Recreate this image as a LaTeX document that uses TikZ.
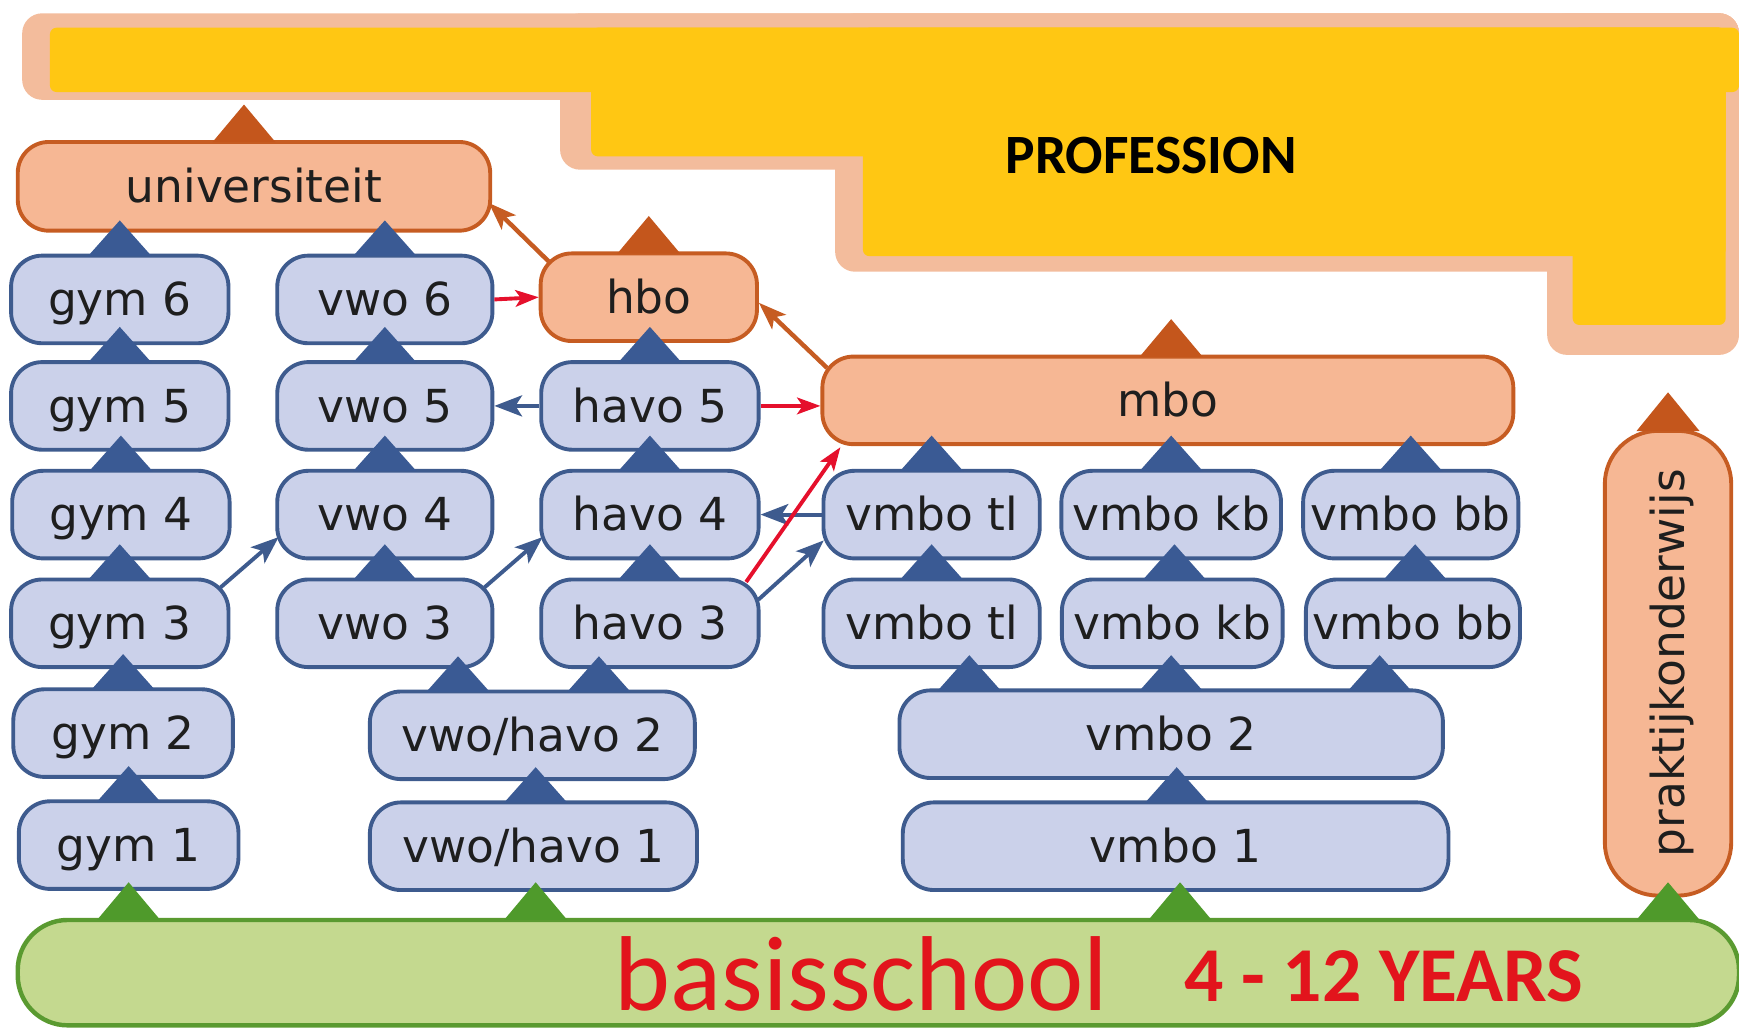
\documentclass[tikz,border=0pt]{standalone}
\usepackage{fontspec}
\setmainfont{DejaVu Sans}
\newfontfamily\calibfont{Carlito}
\usetikzlibrary{arrows.meta,calc}
\definecolor{bfill}{HTML}{CBD1EA}
\definecolor{bline}{HTML}{3E5B8E}
\definecolor{btri}{HTML}{3A5A94}
\definecolor{ofill}{HTML}{F6B794}
\definecolor{oline}{HTML}{C65C22}
\definecolor{otri}{HTML}{C4561C}
\definecolor{gfill}{HTML}{C4D98F}
\definecolor{gline}{HTML}{5A9A30}
\definecolor{gtri}{HTML}{4F9A2B}
\definecolor{yell}{HTML}{FFC713}
\definecolor{peach}{HTML}{F3BC9C}
\definecolor{redtxt}{HTML}{E2141C}
\definecolor{rarrow}{HTML}{E5102C}
\definecolor{txt}{HTML}{1E1E1E}
\newcommand{\uptri}[4]{\fill[#1] ($(#2)+(#3-28.5,2)$) -- ($(#2)+(#3+28.5,2)$) -- ($(#2)+(#3,-#4)$) -- cycle;}
\begin{document}
\begin{tikzpicture}[x=1pt,y=-1pt,
  bbox/.style={draw=bline, fill=bfill, line width=3.5pt, rounded corners=28pt,
    minimum height=79pt, inner sep=0pt, text height=29pt, text depth=0pt,
    text=txt, font=\fontsize{41}{41}\selectfont},
  obox/.style={bbox, draw=oline, fill=ofill},
  barr/.style={draw=bline, line width=3.5pt, -{Stealth[length=25pt,width=19pt,inset=6pt]}},
  rarr/.style={draw=rarrow, line width=3.5pt, -{Stealth[length=21pt,width=15pt,inset=5pt]}},
  oarr/.style={draw=oline, line width=4pt, -{Stealth[length=25pt,width=18pt,inset=6pt]}}]
\useasboundingbox (0,0) rectangle (1568,928.7);
% PROFESSION area
\fill[peach, rounded corners=18pt] (20,12) rectangle (1568,90);
\fill[peach, rounded corners=18pt] (505,12) rectangle (1568,153);
\fill[peach, rounded corners=18pt] (753,12) rectangle (1568,245);
\fill[peach, rounded corners=18pt] (1395,12) rectangle (1568,320);
\fill[yell, rounded corners=6pt] (45,25) rectangle (1568,83);
\fill[yell, rounded corners=6pt] (533,25) rectangle (1556,141);
\fill[yell, rounded corners=6pt] (778,25) rectangle (1556,231);
\fill[yell, rounded corners=6pt] (1418,25) rectangle (1556,293);
\node[font=\calibfont\bfseries\fontsize{50}{50}\selectfont, anchor=base, text=black, inner sep=0pt] (prof) at (1038,156) {PROFESSION};
% upper tier
\node[obox, minimum width=426pt, minimum height=80pt] (univ) at (229,168) {universiteit};
\node[obox, minimum width=195pt] (hbo) at (585,268) {hbo};
\node[obox, minimum width=623pt] (mbo) at (1053,361) {mbo};
\node[obox, rotate=90, minimum width=419pt, minimum height=114pt, rounded corners=48pt] (prak) at (1504,598) {praktijkonderwijs};
% gym column
\node[bbox, minimum width=196pt] (gym6) at (108,270) {gym 6};
\node[bbox, minimum width=196pt] (gym5) at (108,366) {gym 5};
\node[bbox, minimum width=196pt] (gym4) at (109,464) {gym 4};
\node[bbox, minimum width=196pt] (gym3) at (108,562) {gym 3};
\node[bbox, minimum width=198pt] (gym2) at (111,661) {gym 2};
\node[bbox, minimum width=198pt] (gym1) at (116,762) {gym 1};
% vwo column
\node[bbox, minimum width=194pt] (vwo6) at (347,270) {vwo 6};
\node[bbox, minimum width=194pt] (vwo5) at (347,366) {vwo 5};
\node[bbox, minimum width=194pt] (vwo4) at (347,464) {vwo 4};
\node[bbox, minimum width=194pt] (vwo3) at (347,562) {vwo 3};
% havo column
\node[bbox, minimum width=196pt] (havo5) at (586,366) {havo 5};
\node[bbox, minimum width=196pt] (havo4) at (586,464) {havo 4};
\node[bbox, minimum width=196pt] (havo3) at (586,562) {havo 3};
\node[bbox, minimum width=293pt] (vwohavo2) at (480,663) {vwo/havo 2};
\node[bbox, minimum width=295pt] (vwohavo1) at (481,763) {vwo/havo 1};
% vmbo
\node[bbox, minimum width=195pt] (vmbotlA) at (840,464) {vmbo tl};
\node[bbox, minimum width=198pt] (vmbokbA) at (1056,464) {vmbo kb};
\node[bbox, minimum width=194pt] (vmbobbA) at (1272,464) {vmbo bb};
\node[bbox, minimum width=195pt] (vmbotlB) at (840,562) {vmbo tl};
\node[bbox, minimum width=199pt] (vmbokbB) at (1057,562) {vmbo kb};
\node[bbox, minimum width=193pt] (vmbobbB) at (1274,562) {vmbo bb};
\node[bbox, minimum width=490pt] (vmbo2) at (1056,662) {vmbo 2};
\node[bbox, minimum width=492pt] (vmbo1) at (1060,763) {vmbo 1};
% basisschool
\node[draw=gline, fill=gfill, line width=4pt, rounded corners=45pt, minimum width=1552pt, minimum height=95pt, inner sep=0pt] (basis) at (792,877) {};
\node[anchor=base west, inner sep=0pt, text=redtxt, font=\calibfont\fontsize{96}{96}\selectfont] (bs) at (554,911) {basisschool};
\node[anchor=base west, inner sep=0pt, text=redtxt, font=\calibfont\bfseries\fontsize{70}{70}\selectfont] (yrs) at (1068,903) {4 - 12 YEARS};
% triangles
\uptri{otri}{univ.north}{-9}{32}
\uptri{otri}{hbo.north}{0}{32}
\uptri{otri}{mbo.north}{3}{32}
\uptri{otri}{prak.east}{0}{33}
\uptri{btri}{gym6.north}{0}{30}
\uptri{btri}{gym5.north}{0}{30}
\uptri{btri}{gym4.north}{0}{30}
\uptri{btri}{gym3.north}{0}{30}
\uptri{btri}{gym2.north}{0}{30}
\uptri{btri}{gym1.north}{0}{30}
\uptri{btri}{vwo6.north}{0}{30}
\uptri{btri}{vwo5.north}{0}{30}
\uptri{btri}{vwo4.north}{0}{30}
\uptri{btri}{vwo3.north}{0}{30}
\uptri{btri}{havo5.north}{0}{30}
\uptri{btri}{havo4.north}{0}{30}
\uptri{btri}{havo3.north}{0}{30}
\uptri{btri}{vwohavo2.north}{-67}{30}
\uptri{btri}{vwohavo2.north}{60}{30}
\uptri{btri}{vwohavo1.north}{2}{30}
\uptri{btri}{vmbotlA.north}{0}{30}
\uptri{btri}{vmbokbA.north}{0}{30}
\uptri{btri}{vmbobbA.north}{0}{30}
\uptri{btri}{vmbotlB.north}{0}{30}
\uptri{btri}{vmbokbB.north}{2}{30}
\uptri{btri}{vmbobbB.north}{2}{30}
\uptri{btri}{vmbo2.north}{-182}{30}
\uptri{btri}{vmbo2.north}{0}{30}
\uptri{btri}{vmbo2.north}{188}{30}
\uptri{btri}{vmbo1.north}{1}{30}
\uptri{gtri}{gym1.south |- basis.north}{0}{32}
\uptri{gtri}{vwohavo1.south |- basis.north}{2}{32}
\uptri{gtri}{vmbo1.south |- basis.north}{4}{32}
\uptri{gtri}{prak.center |- basis.north}{0}{32}
% arrows
\draw[oarr] ([xshift=9pt,yshift=-9pt]hbo.north west) -- ([xshift=-3pt,yshift=-15pt]univ.east);
\draw[oarr] ([xshift=6pt,yshift=-12pt]mbo.north west) -- ([yshift=-5pt]hbo.east);
\draw[rarr] (vwo6.east) -- (hbo.west);
\draw[barr] (havo5.west) -- (vwo5.east);
\draw[rarr] (havo5.east) -- (havo5.east -| mbo.west);
\draw[barr] (vmbotlA.west) -- (havo4.east);
\draw[barr] ([xshift=-9pt,yshift=-9pt]gym3.north east) -- ([xshift=3pt,yshift=21pt]vwo4.south west);
\draw[barr] ([xshift=-9pt,yshift=-9pt]vwo3.north east) -- ([xshift=3pt,yshift=21pt]havo4.south west);
\draw[barr] ([xshift=-2pt,yshift=-20pt]havo3.north east) -- ([xshift=2pt,yshift=18pt]vmbotlA.south west);
\draw[rarr] ([xshift=-13pt,yshift=-4pt]havo3.north east) -- ([xshift=18pt,yshift=-1pt]mbo.south west);
\end{tikzpicture}
\end{document}
